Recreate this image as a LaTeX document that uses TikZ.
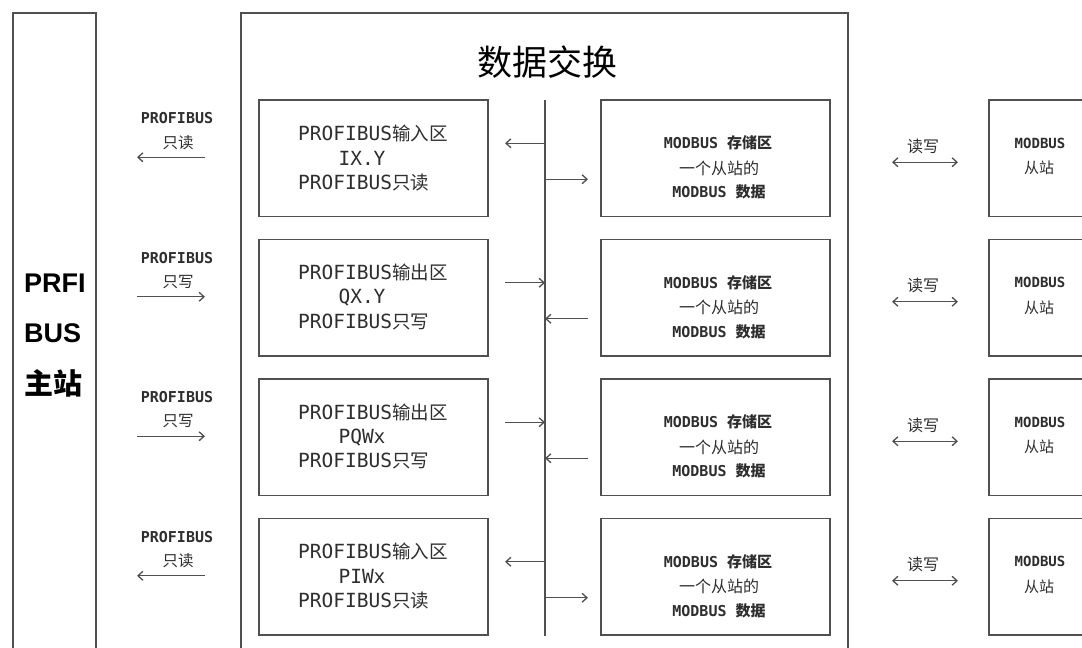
\documentclass[tikz,border=0pt]{standalone}
\usepackage{fontspec}
\setmainfont{Liberation Sans}
\newfontfamily\cjk{Noto Sans CJK SC}
\newfontfamily\mono{DejaVu Sans Mono}
\usetikzlibrary{arrows.meta}
\newcommand\zh[2]{{\cjk\fontsize{#1}{#1}\selectfont #2}}
\definecolor{ln}{HTML}{505050}
\definecolor{tx}{HTML}{2E2E2E}
\tikzset{
  tipA/.tip={Straight Barb[length=5pt,width=9pt,line width=1.3pt]},
  box/.style={draw=ln, line width=1.4pt, inner sep=0pt, fill=none},
  arr/.style={draw=ln, line width=1.2pt, -tipA},
  darr/.style={draw=ln, line width=1.3pt, tipA-tipA},
  lbl/.style={inner sep=0pt, text=tx},
}
\begin{document}
\begin{tikzpicture}[x=1pt,y=-1pt]
\useasboundingbox (0,0) rectangle (1082,648);
\fill[white] (0,0) rectangle (1082,648);
\clip (0,0) rectangle (1082,648);
% master and exchange frames
\node[box, minimum width=83pt, minimum height=700pt] (master) at (54.5,363) {};
\node[box, minimum width=607pt, minimum height=700pt] (xchg) at (544.5,363) {};
\node[lbl, anchor=west, text=black, font=\fontsize{27}{27}\selectfont\bfseries] (m1) at (24,283) {PRFI};
\node[lbl, anchor=west, text=black, font=\fontsize{27}{27}\selectfont\bfseries] (m2) at (24,333) {BUS};
\node[lbl, anchor=west, text=black] (m3) at (24,383) {\cjk\fontsize{29}{29}\selectfont\bfseries 主站};
\node[lbl, text=black] (title) at (547,62) {\zh{35}{数据交换}};
% bus
\coordinate (busTop) at (545,100);
\coordinate (busBot) at (545,636);
\draw[ln, line width=1.3pt] (busTop) -- (busBot);
\foreach \i/\kind/\nm/\ad/\rw in {0/A/输入区/IX.Y/读, 1/B/输出区/QX.Y/写, 2/B/输出区/PQWx/写, 3/A/输入区/PIWx/读}{
  \pgfmathsetmacro\c{158.25+139.5*\i}
  \node[box, minimum width=229pt, minimum height=116.5pt] (L\i) at (373.5,\c) {};
  \node[box, minimum width=229pt, minimum height=116.5pt] (R\i) at (715.5,\c) {};
  \node[box, minimum width=121pt, minimum height=116.5pt] (S\i) at (1049.5,\c) {};
  % left box text
  \node[lbl, anchor=west] (La\i) at (298,\c-25) {\mono\fontsize{19.5}{19.5}\selectfont PROFIBUS\zh{18.5}{\nm}};
  \node[lbl] (Lb\i) at (362,\c) {\mono\fontsize{19.5}{19.5}\selectfont \ad};
  \node[lbl, anchor=west] (Lc\i) at (298,\c+24) {\mono\fontsize{19.5}{19.5}\selectfont PROFIBUS\zh{18.5}{只\rw}};
  % right box text
  \node[lbl] (Ra\i) at (718,\c-15) {\mono\fontsize{15}{15}\selectfont\bfseries MODBUS \zh{15}{存储区}};
  \node[lbl] (Rb\i) at (719,\c+10) {\zh{16}{一个从站的}};
  \node[lbl] (Rc\i) at (719,\c+34) {\mono\fontsize{15}{15}\selectfont\bfseries MODBUS \zh{15}{数据}};
  % slave text
  \node[lbl] (Sa\i) at (1040,\c-15) {\mono\fontsize{14}{14}\selectfont\bfseries MODBUS};
  \node[lbl] (Sb\i) at (1039,\c+10) {\zh{15}{从站}};
  % read/write labels
  \node[lbl] (Pa\i) at (177,\c-40) {\mono\fontsize{15}{15}\selectfont\bfseries PROFIBUS};
  \node[lbl] (Pb\i) at (178,\c-16) {\zh{15.5}{只\rw}};
  \coordinate (pl\i) at (137,\c-1);
  \coordinate (pr\i) at (205,\c-1);
  \node[lbl] (Q\i) at (923,\c-12) {\zh{16}{读写}};
  \coordinate (ql\i) at (892,\c+4);
  \coordinate (qr\i) at (958,\c+4);
  \draw[darr] (ql\i) -- (qr\i);
  % bus connection points
  \coordinate (bu\i) at (545,\c-15);
  \coordinate (bd\i) at (545,\c+21);
  \coordinate (lu\i) at (505,\c-15);
  \coordinate (rd\i) at (588,\c+21);
  \if A\kind
    \draw[arr] (pr\i) -- (pl\i);
    \draw[arr] (bu\i) -- (lu\i);
    \draw[arr] (bd\i) -- (rd\i);
  \else
    \draw[arr] (pl\i) -- (pr\i);
    \draw[arr] (lu\i) -- (bu\i);
    \draw[arr] (rd\i) -- (bd\i);
  \fi
}
\end{tikzpicture}
\end{document}
